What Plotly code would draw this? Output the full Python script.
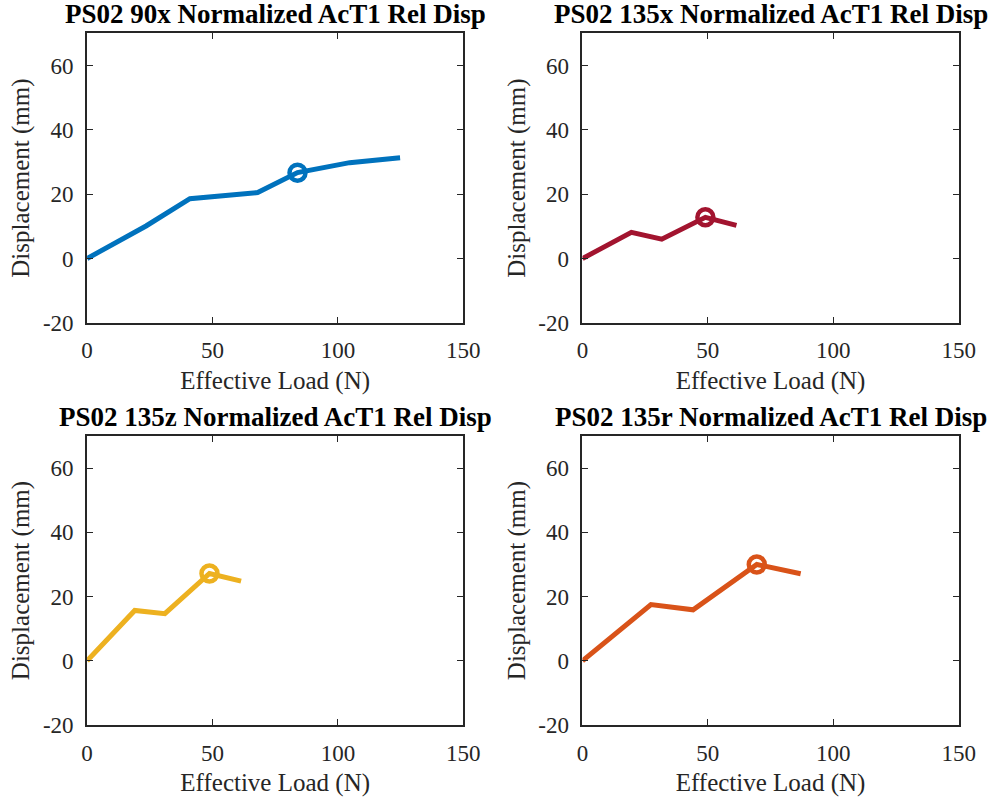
import plotly.graph_objects as go

titles = ["PS02 90x Normalized AcT1 Rel Disp", "PS02 135x Normalized AcT1 Rel Disp",
          "PS02 135z Normalized AcT1 Rel Disp", "PS02 135r Normalized AcT1 Rel Disp"]
colors = ["#0072BD", "#A2142F", "#EDB120", "#D95319"]

load_90x = [0, 23.5, 41.0, 68.0, 83.9, 104.7, 124.8]
disp_90x = [0, 10.1, 18.6, 20.5, 26.7, 29.8, 31.3]
mark_90x = (83.9, 26.7)

load_135x = [0, 19.5, 31.6, 49.0, 61.4]
disp_135x = [0, 8.1, 6.0, 12.8, 10.3]
mark_135x = (49.0, 12.8)

load_135z = [0, 19.0, 31.0, 48.8, 61.4]
disp_135z = [0, 15.7, 14.7, 27.2, 24.8]
mark_135z = (48.8, 27.2)

load_135r = [0, 27.3, 44.1, 69.5, 87.0]
disp_135r = [0, 17.5, 15.9, 30.0, 27.1]
mark_135r = (69.5, 30.0)

xticks = [0, 50, 100, 150]
xticklabels = ["0", "50", "100", "150"]
yticks = [-20, 0, 20, 40, 60]
yticklabels = ["-20", "0", "20", "40", "60"]

series = [(load_90x, disp_90x, mark_90x), (load_135x, disp_135x, mark_135x),
          (load_135z, disp_135z, mark_135z), (load_135r, disp_135r, mark_135r)]

W, H = 1004, 810
xdoms = [(83 / W, 468 / W), (590 / W, 975 / W)]
ydoms = [(1 - 328 / H, 1 - 34 / H), (1 - 737 / H, 1 - 443 / H)]

font = "Liberation Serif, Times New Roman, serif"
fig = go.Figure()
annotations = []
for i, (xs, ys, mk) in enumerate(series):
    r, c = divmod(i, 2)
    sfx = "" if i == 0 else str(i + 1)
    fig.add_trace(go.Scatter(x=xs, y=ys, mode="lines", line=dict(color=colors[i], width=5),
                             xaxis="x" + sfx, yaxis="y" + sfx, showlegend=False))
    fig.add_trace(go.Scatter(x=[mk[0]], y=[mk[1]], mode="markers",
                             marker=dict(symbol="circle-open", size=16, color=colors[i],
                                         line=dict(width=4.5, color=colors[i])),
                             xaxis="x" + sfx, yaxis="y" + sfx, showlegend=False))
    axcommon = dict(showline=True, mirror="ticks", linecolor="#262626", linewidth=1.8,
                    ticks="inside", ticklen=6, tickwidth=1.2, tickcolor="#262626",
                    showgrid=False, zeroline=False,
                    tickfont=dict(family=font, size=23, color="#262626"))
    fig.layout["xaxis" + sfx] = dict(domain=xdoms[c], range=[0, 150], tickvals=xticks,
                                     ticktext=xticklabels, anchor="y" + sfx,
                                     ticklabelstandoff=6,
                                     title=dict(text="Effective Load (N)", standoff=9,
                                                font=dict(family=font, size=25, color="#262626")),
                                     **axcommon)
    fig.layout["yaxis" + sfx] = dict(domain=ydoms[r], range=[-20, 70], tickvals=yticks,
                                     ticktext=yticklabels, anchor="x" + sfx,
                                     ticklabelstandoff=7,
                                     title=dict(text="Displacement (mm)", standoff=6,
                                                font=dict(family=font, size=25, color="#262626")),
                                     **axcommon)
    annotations.append(dict(text="<b>" + titles[i] + "</b>", xref="paper", yref="paper",
                            x=(xdoms[c][0] + xdoms[c][1]) / 2, y=ydoms[r][1],
                            yanchor="bottom", xanchor="center", yshift=2, showarrow=False,
                            font=dict(family=font, size=27, color="black")))

fig.update_layout(width=W, height=H, margin=dict(l=0, r=0, t=0, b=0),
                  paper_bgcolor="white", plot_bgcolor="white", annotations=annotations)
fig.write_html("out.html")
